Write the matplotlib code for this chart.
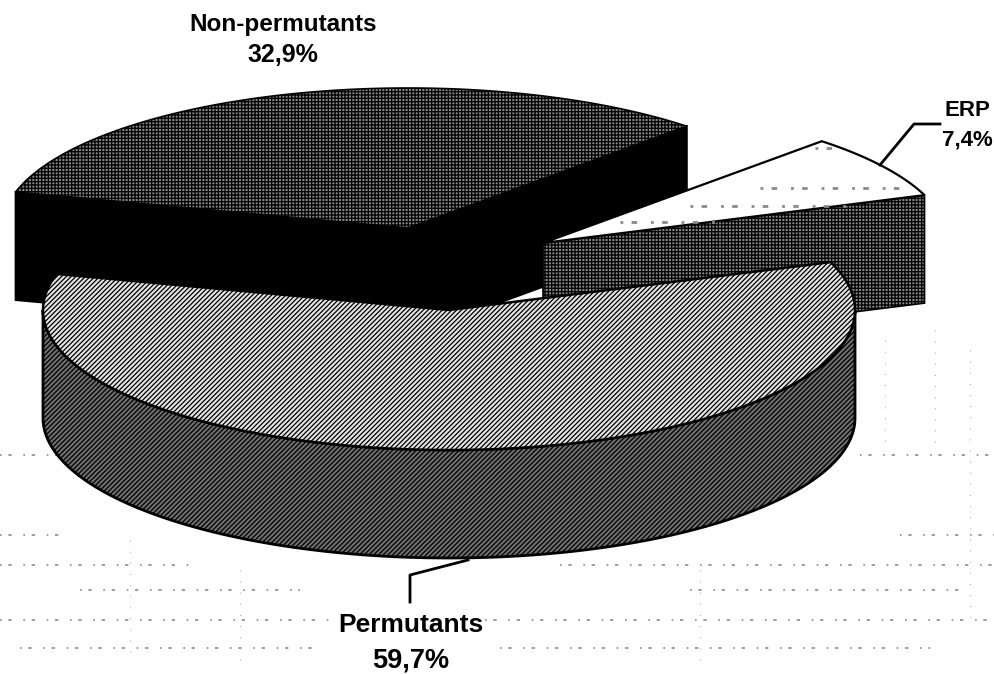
import numpy as np
import matplotlib
matplotlib.use('Agg')
import matplotlib.pyplot as plt
from matplotlib.patches import Polygon

labels = ['Permutants', 'Non-permutants', 'ERP']
shares = [59.7, 32.9, 7.4]
share_text = ['59,7%', '32,9%', '7,4%']

W, H = 995, 674
plt.rcParams['font.family'] = ['Liberation Sans', 'DejaVu Sans']
plt.rcParams['hatch.linewidth'] = 0.9

fig = plt.figure(figsize=(W / 100, H / 100), dpi=100)
ax = fig.add_axes([0, 0, 1, 1])
ax.set_xlim(0, W)
ax.set_ylim(H, 0)
ax.axis('off')

# pie geometry, in picture pixels
a, b, depth = 406, 140, 108
start = 20.0
centers = {'Permutants': (449, 310), 'Non-permutants': (408, 228), 'ERP': (543, 243)}

# angle span of each slice comes from the shares (going clockwise from start)
spans = {}
t = start
for name, s in zip(labels, shares):
    spans[name] = (t, t - s * 3.6)
    t = t - s * 3.6


def rim(name, t1, t2):
    cx, cy = centers[name]
    tt = np.radians(np.linspace(t1, t2, 200))
    return np.column_stack([cx + a * np.cos(tt), cy - b * np.sin(tt)])


def shape(pts, fc, hatch=None, lw=1.5, z=1, ec='black'):
    ax.add_patch(Polygon(pts, closed=True, facecolor=fc, edgecolor=ec,
                         hatch=hatch, linewidth=lw, zorder=z))


def drop(pts):
    return np.asarray(pts, dtype=float) + np.array([0, depth])


# background specks from the scan, rows of x ranges
speck_rows = [(455, 0, 65), (455, 860, 995), (565, 0, 190), (565, 560, 995),
              (535, 0, 60), (535, 900, 995), (620, 0, 330), (620, 485, 995),
              (590, 80, 300), (590, 690, 960), (648, 20, 320), (648, 500, 930)]
for y, x1, x2 in speck_rows:
    ax.plot([x1, x2], [y, y], color='#8c8c8c', lw=1.2, ls=(0, (1, 4, 2, 7)), zorder=0)
speck_cols = [(885, 340, 450), (935, 330, 445), (970, 350, 620), (700, 570, 660), (240, 570, 660), (130, 540, 660)]
for x, y1, y2 in speck_cols:
    ax.plot([x, x], [y1, y2], color='#b5b5b5', lw=0.8, ls=(0, (1, 9)), zorder=0)

# non-permutants slice
name = 'Non-permutants'
r = rim(name, spans[name][0], spans[name][1])
apex = np.array(centers[name], dtype=float)
shape(np.vstack([[apex], r[:1], drop(r[:1]), drop([apex])]), 'black', z=1)
shape(np.vstack([[apex], r[-1:], drop(r[-1:]), drop([apex])]), 'black', z=1)
shape(np.vstack([[apex], r]), '#858585', hatch='+++++', lw=1.2, z=2)

# ERP slice
name = 'ERP'
r = rim(name, spans[name][0], spans[name][1])
apex = np.array(centers[name], dtype=float)
shape(np.vstack([[apex], r[-1:], drop(r[-1:]), drop([apex])]), '#858585', hatch='+++++', lw=1.2, z=3)
shape(np.vstack([[apex], r]), 'white', lw=1.6, z=4)
for (x1, x2, y) in [(620, 720, 222), (690, 850, 206), (760, 900, 188), (815, 845, 148)]:
    ax.plot([x1, x2], [y, y], color='#8a8a8a', lw=2.0, ls=(0, (1, 3, 2, 5)), zorder=5)

# permutants slice
name = 'Permutants'
t1, t2 = spans[name]
r = rim(name, t1, t2)
front = rim(name, 0, -180)
apex = np.array(centers[name], dtype=float)
shape(np.vstack([front, drop(front)[::-1]]), '#6e6e6e', hatch='///////', lw=2.0, z=6)
shape(np.vstack([[apex], r]), '#e4e4e4', hatch='///////', lw=1.8, z=7)

# labels and leader lines
text_kw = dict(fontweight='bold', ha='center', va='center', zorder=9)
ax.text(283, 25, labels[1], fontsize=17.5, **text_kw)
ax.text(283, 55, share_text[1], fontsize=18, **text_kw)
ax.text(967, 110, labels[2], fontsize=16, **text_kw)
ax.text(967, 140, share_text[2], fontsize=16, **text_kw)
ax.text(411, 625, labels[0], fontsize=19, **text_kw)
ax.text(411, 660, share_text[0], fontsize=19.5, **text_kw)
ax.plot([880, 914, 940], [165, 124, 124], color='black', lw=2.0, zorder=8)
ax.plot([468, 410, 410], [560, 575, 602], color='black', lw=2.0, zorder=8)

fig.savefig('out.png', dpi=100, facecolor='white')
